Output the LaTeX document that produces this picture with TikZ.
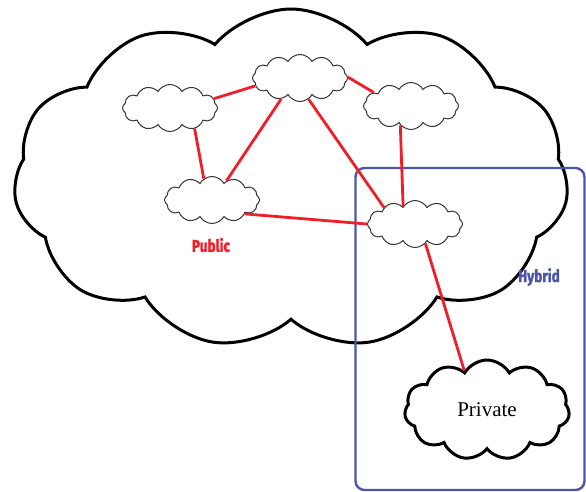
\documentclass[tikz,border=0pt]{standalone}
\usepackage{fontspec}
\setmainfont{Liberation Serif}
\newfontfamily\tagfont[FakeStretch=0.8, FakeBold=1.5]{Fira Sans}
\usetikzlibrary{shapes.symbols}
\definecolor{linkred}{RGB}{240,30,40}
\definecolor{hybridblue}{RGB}{75,85,170}

\begin{document}
\begin{tikzpicture}[x=1pt, y=-1pt]
    \tikzstyle{link} = [draw, linkred, line width=2.8pt]
    \tikzstyle{site} = [cloud, cloud puffs=12, cloud puff arc=120, cloud ignores aspect, draw=black!80, line width=1pt, fill=white, minimum width=95pt, minimum height=47pt, inner sep=0pt]
    \tikzstyle{bigcloud} = [cloud, cloud puffs=11, cloud puff arc=100, cloud ignores aspect, draw=black, line width=3pt, inner sep=0pt]
    \tikzstyle{tag} = [font=\tagfont\bfseries\fontsize{17}{17}\selectfont]

    \useasboundingbox (0, 0) rectangle (586, 491);

    \node[bigcloud, minimum width=555pt, minimum height=340pt] (public cloud) at (291, 179) {};
    \node[draw=hybridblue, line width=2.4pt, rounded corners=9pt, minimum width=229pt, minimum height=322pt, inner sep=0pt] (hybrid box) at (470, 329) {};

    \node[site] (top site) at (300, 78) {};
    \node[site] (left site) at (170, 108) {};
    \node[site] (right site) at (411, 106) {};
    \node[site] (low site) at (212, 200) {};
    \node[site] (edge site) at (415, 224) {};
    \node[bigcloud, cloud puffs=11, cloud puff arc=120, fill=white, minimum width=165pt, minimum height=100pt, font=\fontsize{21}{21}\selectfont] (private cloud) at (487, 410) {Private};

    \node[tag, text=linkred] (public label) at (211, 245) {Public};
    \node[tag, text=hybridblue] (hybrid label) at (539, 277) {Hybrid};

    \path[link] (left site.12) to (top site.-170);
    \path[link] (top site.1) to (right site.160);
    \path[link] (left site.-40) to (low site.111);
    \path[link] (top site.-132) to (low site.53);
    \path[link] (top site.-68) to (edge site.152);
    \path[link] (right site.-119) to (edge site.124);
    \path[link] (low site.-23) to (edge site.180);
    \path[link] (edge site.-62) to (private cloud.120);
\end{tikzpicture}
\end{document}
